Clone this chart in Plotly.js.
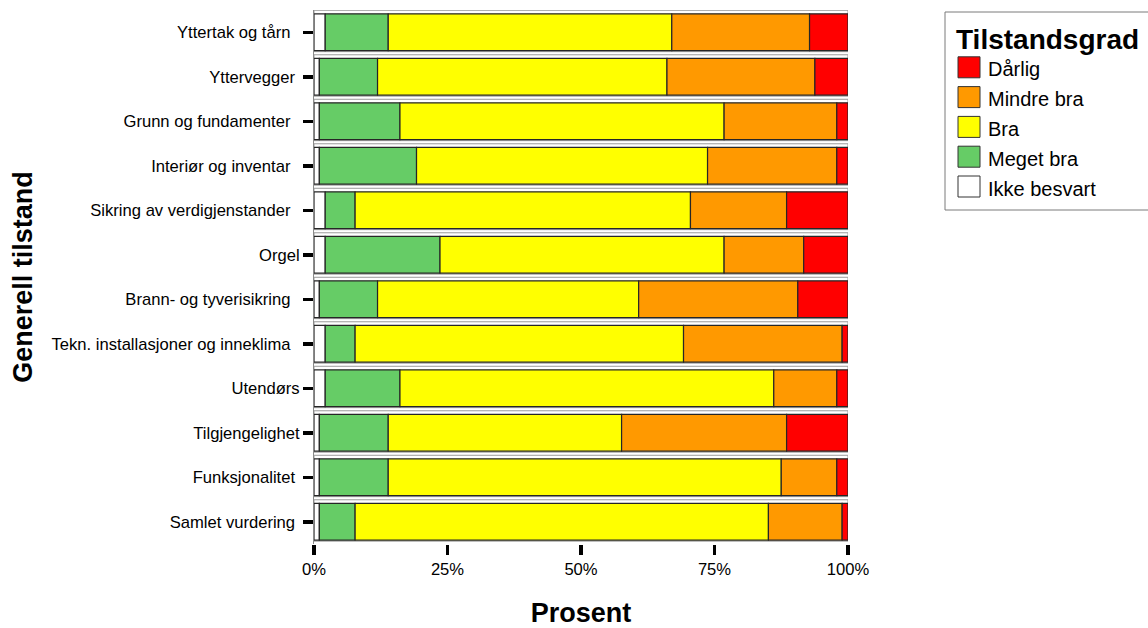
<!DOCTYPE html>
<html>
<head>
<meta charset="utf-8">
<script src="https://cdn.plot.ly/plotly-3.0.1.min.js"></script>
<style>
  html, body { margin: 0; padding: 0; background: #ffffff; }
  #chart { width: 1148px; height: 628px; }
</style>
</head>
<body>
<div id="chart"></div>
<script>
// ---- Data ----
const categories = [
  "Yttertak og tårn",
  "Yttervegger",
  "Grunn og fundamenter",
  "Interiør og inventar",
  "Sikring av verdigjenstander",
  "Orgel",
  "Brann- og tyverisikring",
  "Tekn. installasjoner og inneklima",
  "Utendørs",
  "Tilgjengelighet",
  "Funksjonalitet",
  "Samlet vurdering"
];
// tick labels as printed (some carry trailing spaces in the original)
const yTickLabels = [
  "Yttertak og tårn\u00a0\u00a0",
  "Yttervegger\u00a0",
  "Grunn og fundamenter\u00a0\u00a0",
  "Interiør og inventar\u00a0\u00a0",
  "Sikring av verdigjenstander\u00a0\u00a0",
  "Orgel",
  "Brann- og tyverisikring\u00a0\u00a0",
  "Tekn. installasjoner og inneklima\u00a0\u00a0",
  "Utendørs",
  "Tilgjengelighet",
  "Funksjonalitet\u00a0",
  "Samlet vurdering\u00a0"
];

const ikkeBesvart = [2.1, 1.0, 1.0, 1.0, 2.1, 2.1, 1.0, 2.1, 2.1, 1.0, 1.0, 1.0];
const megetBra    = [11.8, 10.9, 15.1, 18.2, 5.6, 21.5, 10.9, 5.6, 14.0, 12.9, 12.9, 6.7];
const bra         = [53.1, 54.2, 60.7, 54.5, 62.8, 53.2, 48.9, 61.5, 70.0, 43.7, 73.6, 77.4];
const mindreBra   = [25.8, 27.7, 21.1, 24.2, 18.0, 14.9, 29.8, 29.7, 11.8, 30.9, 10.4, 13.8];
const darlig      = [7.2, 6.2, 2.1, 2.1, 11.5, 8.3, 9.4, 1.1, 2.1, 11.5, 2.1, 1.1];

const seriesNames  = ["Ikke besvart", "Meget bra", "Bra", "Mindre bra", "Dårlig"];
const seriesValues = [ikkeBesvart, megetBra, bra, mindreBra, darlig];
const seriesColors = ["#FFFFFF", "#66CC66", "#FFFF00", "#FF9900", "#FF0000"];

const xTickVals = [0, 25, 50, 75, 100];
const xTickText = ["0%", "25%", "50%", "75%", "100%"];

const FONT = "Liberation Sans, Arial, sans-serif";

// ---- Geometry of the plot area (px) ----
const W = 1148, H = 628;
const PX0 = 314, PX1 = 848, PY0 = 10, PY1 = 544;
const px2x = p => (p - PX0) / (PX1 - PX0);
const px2y = p => (PY1 - p) / (PY1 - PY0);

// ---- Traces ----
const traces = [];
// light full-row frame behind each bar
const totals = categories.map((_, i) => seriesValues.reduce((s, arr) => s + arr[i], 0));
traces.push({
  type: "bar", orientation: "h",
  y: categories, x: totals, base: 0,
  width: 0.93, offset: -0.494,
  marker: { color: "rgba(255,255,255,0)", line: { color: "#9a9a9a", width: 1 } },
  showlegend: false, hoverinfo: "skip"
});
const cum = categories.map(() => 0);
seriesValues.forEach((vals, k) => {
  const base = cum.slice();
  vals.forEach((v, i) => { cum[i] += v; });
  traces.push({
    type: "bar", orientation: "h",
    name: seriesNames[k],
    y: categories, x: vals, base: base,
    width: 0.83,
    marker: { color: seriesColors[k], line: { color: "#262626", width: 1.2 } },
    showlegend: false
  });
});

// ---- Custom legend (built from series names / colours) ----
const shapes = [];
const annotations = [];
shapes.push({
  type: "rect", xref: "paper", yref: "paper",
  x0: px2x(945), x1: px2x(1165), y0: px2y(12), y1: px2y(210),
  line: { color: "#7a7a7a", width: 1 }, fillcolor: "#ffffff", layer: "below"
});
annotations.push({
  xref: "paper", yref: "paper", x: px2x(954), y: px2y(39.5),
  xanchor: "left", yanchor: "middle", showarrow: false,
  text: "Tilstandsgrad",
  font: { family: FONT, size: 28, color: "#000", weight: "bold" }
});
const legendOrder = seriesNames.map((_, k) => k).reverse();
legendOrder.forEach((k, j) => {
  const cy = 67.3 + j * 29.8;
  shapes.push({
    type: "rect", xref: "paper", yref: "paper",
    x0: px2x(958), x1: px2x(980), y0: px2y(cy - 10.5), y1: px2y(cy + 10.5),
    line: { color: "#333333", width: 1 }, fillcolor: seriesColors[k]
  });
  annotations.push({
    xref: "paper", yref: "paper", x: px2x(986), y: px2y(cy + 2),
    xanchor: "left", yanchor: "middle", showarrow: false,
    text: seriesNames[k],
    font: { family: FONT, size: 20, color: "#000" }
  });
});

const layout = {
  width: W, height: H,
  margin: { l: PX0, r: W - PX1, t: PY0, b: H - PY1, pad: 0 },
  paper_bgcolor: "#ffffff", plot_bgcolor: "#ffffff",
  barmode: "overlay",
  showlegend: false,
  font: { family: FONT, color: "#000" },
  xaxis: {
    range: [0, 100],
    tickvals: xTickVals, ticktext: xTickText,
    ticks: "outside", ticklen: 10, tickwidth: 3.5, tickcolor: "#000",
    showgrid: false, zeroline: false, showline: false,
    tickfont: { family: FONT, size: 16.6, color: "#000" },
    title: { text: "Prosent", standoff: 26, font: { family: FONT, size: 27, color: "#000", weight: "bold" } },
    fixedrange: true
  },
  yaxis: {
    type: "category",
    categoryorder: "array", categoryarray: categories,
    range: [11.5, -0.5],
    tickvals: categories, ticktext: yTickLabels,
    ticks: "outside", ticklen: 10, tickwidth: 3.5, tickcolor: "#000",
    showgrid: false, zeroline: false,
    showline: true, linecolor: "#8a8a8a", linewidth: 1,
    tickfont: { family: FONT, size: 16.6, color: "#000" },
    title: { text: "Generell tilstand", standoff: 11, font: { family: FONT, size: 27, color: "#000", weight: "bold" } },
    fixedrange: true
  },
  shapes: shapes,
  annotations: annotations
};

Plotly.newPlot("chart", traces, layout, { displayModeBar: false, staticPlot: true });
</script>
</body>
</html>
